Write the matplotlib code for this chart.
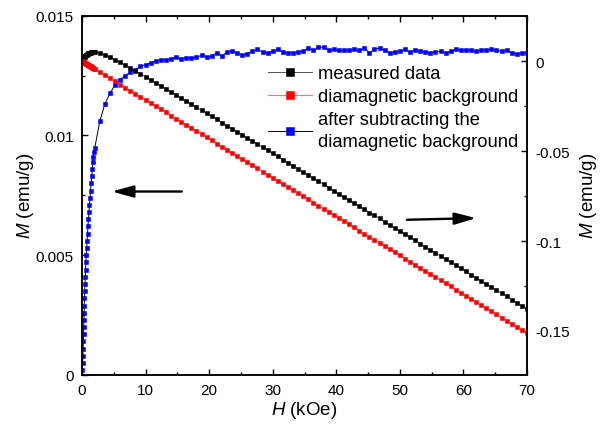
import numpy as np
import matplotlib
matplotlib.use('Agg')
import matplotlib.pyplot as plt
from matplotlib.ticker import MultipleLocator, FuncFormatter

plt.rcParams['font.family'] = ['Liberation Sans', 'DejaVu Sans']
plt.rcParams['mathtext.fontset'] = 'custom'
plt.rcParams['mathtext.rm'] = 'Liberation Sans'
plt.rcParams['mathtext.it'] = 'Liberation Sans:italic'

# field (kOe): dense low-field part, then 0.8 kOe steps
H_low = [0.05, 0.1, 0.14, 0.18, 0.21, 0.24, 0.27, 0.3, 0.33, 0.36, 0.39, 0.43, 0.47,
         0.51, 0.56, 0.61, 0.67, 0.73, 0.8, 0.87, 0.94, 1.01, 1.09, 1.17, 1.26, 1.35,
         1.44, 1.54, 1.63, 1.72, 1.8, 1.9]
H_high = list(np.round(np.arange(2.0, 70.01, 0.8), 1))
H = H_low + H_high

# after subtracting the diamagnetic background (emu/g, left axis)
M_sub = [0.0002, 0.0005, 0.0008, 0.0011, 0.0014, 0.0017, 0.0020, 0.0023, 0.0026, 0.0029,
         0.0032, 0.0035, 0.0038, 0.0041, 0.0044, 0.0047, 0.0050, 0.0053, 0.0056, 0.0059,
         0.0062, 0.0065, 0.0068, 0.0071, 0.0074, 0.0077, 0.0080, 0.0083, 0.0086, 0.0089,
         0.0091, 0.0093,
         0.00947, 0.01059, 0.01132, 0.01176, 0.01211, 0.01233, 0.01250, 0.01264, 0.01275,
         0.01288, 0.01296, 0.01303, 0.01312, 0.01315, 0.01317, 0.01320, 0.01327, 0.01319,
         0.01324, 0.01323, 0.01327, 0.01334, 0.01329, 0.01331, 0.01345, 0.01331, 0.01348,
         0.01352, 0.01345, 0.01334, 0.01341, 0.01351, 0.01359,
         0.01348, 0.01345, 0.01351, 0.01359, 0.01348, 0.01345, 0.01345, 0.01348, 0.01351,
         0.01365, 0.01355, 0.01368, 0.01369, 0.01355, 0.01359, 0.01355, 0.01355, 0.01355,
         0.01359, 0.01355, 0.01365, 0.01345, 0.01359, 0.01365, 0.01355, 0.01344, 0.01348,
         0.01351, 0.01359, 0.01348, 0.01355, 0.01351, 0.01348, 0.01345, 0.01348, 0.01351,
         0.01345, 0.01351, 0.01359, 0.01355, 0.01355, 0.01355, 0.01351, 0.01355, 0.01355,
         0.01359, 0.01355, 0.01351, 0.01355, 0.01345, 0.01341, 0.01345, 0.01345]

# diamagnetic background (emu/g, right axis)
M_dia = [-0.00011, -0.00022, -0.00030, -0.00039, -0.00045, -0.00052, -0.00058, -0.00065,
         -0.00071, -0.00078, -0.00084, -0.00093, -0.00102, -0.00110, -0.00121, -0.00132,
         -0.00145, -0.00158, -0.00173, -0.00188, -0.00203, -0.00218, -0.00235, -0.00253,
         -0.00272, -0.00292, -0.00311, -0.00333, -0.00352, -0.00372, -0.00389, -0.00410,
         -0.00432, -0.00605, -0.00778, -0.00950, -0.01123, -0.01296, -0.01469, -0.01642,
         -0.01814, -0.01987, -0.02160, -0.02333, -0.02506, -0.02678, -0.02851, -0.03024,
         -0.03197, -0.03370, -0.03542, -0.03715, -0.03888, -0.04061, -0.04234, -0.04406,
         -0.04579, -0.04752, -0.04925, -0.05098, -0.05270, -0.05443, -0.05616, -0.05789,
         -0.05962, -0.06134, -0.06307, -0.06480, -0.06653, -0.06826, -0.06998, -0.07171,
         -0.07344, -0.07517, -0.07690, -0.07862, -0.08035, -0.08208, -0.08381, -0.08554,
         -0.08726, -0.08899, -0.09072, -0.09245, -0.09418, -0.09590, -0.09763, -0.09936,
         -0.10109, -0.10282, -0.10454, -0.10627, -0.10800, -0.10973, -0.11146, -0.11318,
         -0.11491, -0.11664, -0.11837, -0.12010, -0.12182, -0.12355, -0.12528, -0.12701,
         -0.12874, -0.13046, -0.13219, -0.13392, -0.13565, -0.13738, -0.13910, -0.14083,
         -0.14256, -0.14429, -0.14602, -0.14774, -0.14947, -0.15120]

# measured data (emu/g, right axis)
M_meas = [0.00009, 0.00028, 0.00050, 0.00071, 0.00095, 0.00118, 0.00142, 0.00165,
          0.00189, 0.00212, 0.00236, 0.00257, 0.00278, 0.00300, 0.00319, 0.00338,
          0.00355, 0.00372, 0.00387, 0.00402, 0.00417, 0.00432, 0.00445, 0.00457,
          0.00468, 0.00478, 0.00489, 0.00497, 0.00508, 0.00518, 0.00521, 0.00520,
          0.00515, 0.00454, 0.00354, 0.00226, 0.00088, -0.00063, -0.00219, -0.00378,
          -0.00539, -0.00699, -0.00864, -0.01030, -0.01194, -0.01363, -0.01534, -0.01704,
          -0.01870, -0.02051, -0.02218, -0.02392, -0.02561, -0.02727, -0.02905, -0.03075,
          -0.03234, -0.03421, -0.03577, -0.03746, -0.03925, -0.04109, -0.04275, -0.04438,
          -0.04603, -0.04786, -0.04962, -0.05129, -0.05294, -0.05478, -0.05653, -0.05826,
          -0.05996, -0.06166, -0.06325, -0.06507, -0.06667, -0.06839, -0.07026, -0.07195,
          -0.07371, -0.07544, -0.07717, -0.07886, -0.08063, -0.08225, -0.08418, -0.08577,
          -0.08744, -0.08927, -0.09110, -0.09279, -0.09449, -0.09614, -0.09798, -0.09963,
          -0.10140, -0.10316, -0.10492, -0.10662, -0.10831, -0.11010, -0.11177, -0.11342,
          -0.11519, -0.11691, -0.11864, -0.12041, -0.12210, -0.12383, -0.12551, -0.12728,
          -0.12905, -0.13074, -0.13257, -0.13433, -0.13602, -0.13775]

fig = plt.figure(figsize=(6.05, 4.27), dpi=100)
ax = fig.add_axes([82/605, 51/427, 445/605, 359.3/427])
ax2 = ax.twinx()

ms = 2.3
l3, = ax.plot(H, M_sub, color='black', lw=0.7, marker='s', ms=ms, mew=0.4,
              mfc='#0000ff', mec='#0000ff', zorder=3)
l1, = ax2.plot(H, M_meas, color='#555555', lw=0.7, marker='s', ms=ms, mew=0.4,
               mfc='black', mec='black')
l2, = ax2.plot(H, M_dia, color='#ff7070', lw=0.8, marker='s', ms=ms, mew=0.4,
               mfc='#ff0000', mec='#ff0000')

ax.set_xlim(0, 70)
ax.set_ylim(0, 0.015)
ax2.set_ylim(-0.1745, 0.0253)

fmt = FuncFormatter(lambda v, p: '%g' % round(v, 6))
ax.xaxis.set_major_locator(MultipleLocator(10))
ax.xaxis.set_minor_locator(MultipleLocator(5))
ax.yaxis.set_major_locator(MultipleLocator(0.005))
ax.yaxis.set_minor_locator(MultipleLocator(0.0025))
ax.yaxis.set_major_formatter(fmt)
ax2.yaxis.set_major_locator(MultipleLocator(0.05))
ax2.yaxis.set_minor_locator(MultipleLocator(0.025))
ax2.yaxis.set_major_formatter(fmt)

for a in (ax, ax2):
    for s in a.spines.values():
        s.set_linewidth(1.1)
ax.tick_params(which='both', direction='in', top=True, right=False, width=1.0,
               labelsize=11, pad=6)
ax.tick_params(which='major', length=4)
ax.tick_params(which='minor', length=2.5)
ax2.tick_params(which='both', direction='in', width=1.0, labelsize=11, pad=6)
ax2.tick_params(which='major', length=4)
ax2.tick_params(which='minor', length=2.5)

ax.set_xlabel(r'$H$ (kOe)', fontsize=13.5, labelpad=1)
ax.set_ylabel(r'$M$ (emu/g)', fontsize=13.5, labelpad=0)
ax2.set_ylabel(r'$M$ (emu/g)', fontsize=13.5, labelpad=6)

# arrows pointing to the axis each curve belongs to
arr = dict(arrowstyle='-|>,head_length=1.3,head_width=0.36', color='black',
           lw=1.7, shrinkA=0, shrinkB=0, mutation_scale=10)
ax.annotate('', xy=(4.7, 0.00766), xytext=(15.7, 0.00766), arrowprops=arr)
ax.annotate('', xy=(62.0, 0.00655), xytext=(51.1, 0.00648), arrowprops=arr)

leg = ax2.legend([l1, l2, l3],
                 ['measured data', 'diamagnetic background',
                  'after subtracting the\ndiamagnetic background'],
                 loc='upper left', bbox_to_anchor=(268/605, 0.845),
                 bbox_transform=fig.transFigure, frameon=False, fontsize=13.2,
                 handlelength=2.4, handletextpad=0.3, labelspacing=0.33,
                 borderpad=0, borderaxespad=0)
for t in leg.get_texts():
    t.set_linespacing(1.4)
for h in leg.legend_handles:
    h.set_markersize(5.5)

fig.savefig('out.png', dpi=100)
